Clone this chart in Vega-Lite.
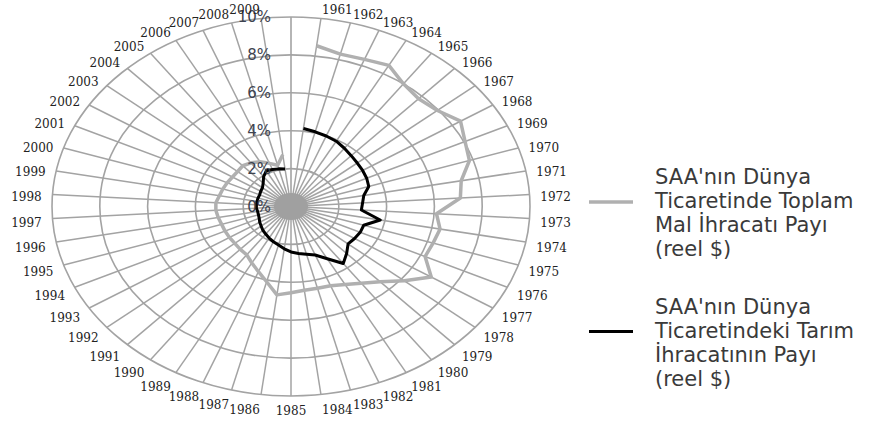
{
  "$schema": "https://vega.github.io/schema/vega-lite/v6.json",
  "autosize": "none",
  "width": 478,
  "height": 379,
  "padding": {"left": 52, "top": 17, "right": 352, "bottom": 29},
  "background": "white",
  "config": {"view": {"stroke": null}},
  "datasets": {
    "main": [
      {"year": 1961, "total": 8.55, "agri": 4.15},
      {"year": 1962, "total": 8.3, "agri": 4.07},
      {"year": 1963, "total": 8.35, "agri": 4.0},
      {"year": 1964, "total": 8.5, "agri": 3.93},
      {"year": 1965, "total": 8.0, "agri": 3.8},
      {"year": 1966, "total": 7.8, "agri": 3.68},
      {"year": 1967, "total": 7.95, "agri": 3.6},
      {"year": 1968, "total": 8.4, "agri": 3.55},
      {"year": 1969, "total": 8.05, "agri": 3.5},
      {"year": 1970, "total": 7.85, "agri": 3.42},
      {"year": 1971, "total": 7.25, "agri": 3.1},
      {"year": 1972, "total": 7.1, "agri": 3.0},
      {"year": 1973, "total": 6.1, "agri": 2.95},
      {"year": 1974, "total": 6.35, "agri": 3.8},
      {"year": 1975, "total": 6.25, "agri": 3.2},
      {"year": 1976, "total": 6.2, "agri": 3.2},
      {"year": 1977, "total": 6.95, "agri": 3.15},
      {"year": 1978, "total": 6.15, "agri": 3.1},
      {"year": 1979, "total": 5.45, "agri": 3.4},
      {"year": 1980, "total": 5.0, "agri": 3.72},
      {"year": 1981, "total": 4.7, "agri": 3.15},
      {"year": 1982, "total": 4.5, "agri": 2.75},
      {"year": 1983, "total": 4.45, "agri": 2.6},
      {"year": 1984, "total": 4.45, "agri": 2.5},
      {"year": 1985, "total": 4.55, "agri": 2.4},
      {"year": 1986, "total": 4.7, "agri": 2.25},
      {"year": 1987, "total": 4.1, "agri": 2.1},
      {"year": 1988, "total": 3.7, "agri": 2.0},
      {"year": 1989, "total": 3.4, "agri": 1.9},
      {"year": 1990, "total": 3.15, "agri": 1.8},
      {"year": 1991, "total": 3.1, "agri": 1.72},
      {"year": 1992, "total": 3.05, "agri": 1.62},
      {"year": 1993, "total": 3.05, "agri": 1.55},
      {"year": 1994, "total": 3.05, "agri": 1.47},
      {"year": 1995, "total": 3.05, "agri": 1.43},
      {"year": 1996, "total": 3.1, "agri": 1.42},
      {"year": 1997, "total": 3.15, "agri": 1.45},
      {"year": 1998, "total": 3.15, "agri": 1.45},
      {"year": 1999, "total": 3.05, "agri": 1.45},
      {"year": 2000, "total": 3.0, "agri": 1.45},
      {"year": 2001, "total": 2.95, "agri": 1.45},
      {"year": 2002, "total": 2.9, "agri": 1.5},
      {"year": 2003, "total": 2.9, "agri": 1.55},
      {"year": 2004, "total": 2.95, "agri": 1.7},
      {"year": 2005, "total": 2.85, "agri": 1.95},
      {"year": 2006, "total": 2.7, "agri": 2.15},
      {"year": 2007, "total": 2.45, "agri": 2.1},
      {"year": 2008, "total": 2.25, "agri": 2.05},
      {"year": 2009, "total": 2.75, "agri": 2.0}
    ],
    "rings": [
      {"r": 0}, {"r": 2}, {"r": 4}, {"r": 6}, {"r": 8}, {"r": 10}
    ]
  },
  "layer": [
    {
      "data": {"name": "rings"},
      "transform": [{"filter": "datum.r > 0"}],
      "mark": {"type": "point", "shape": "M-1,0A1,0.7929,0,1,1,1,0A1,0.7929,0,1,1,-1,0Z", "filled": false, "stroke": "#a3a3a3", "strokeWidth": 1.6, "opacity": 1},
      "encoding": {
        "x": {"datum": 0, "type": "quantitative", "scale": {"domain": [-10, 10], "nice": false, "zero": false}, "axis": null},
        "y": {"datum": 0, "type": "quantitative", "scale": {"domain": [-10, 10], "nice": false, "zero": false}, "axis": null},
        "size": {"field": "r", "type": "quantitative", "scale": {"type": "pow", "exponent": 2, "domain": [0, 10], "range": [0, 228484]}, "legend": null}
      }
    },
    {
      "data": {"name": "main"},
      "transform": [
        {"calculate": "(datum.year - 1960) * 2 * PI / 50", "as": "theta"},
        {"calculate": "10 * sin(datum.theta)", "as": "sx"},
        {"calculate": "10 * cos(datum.theta)", "as": "sy"},
        {"calculate": "0", "as": "zero"}
      ],
      "mark": {"type": "rule", "stroke": "#a3a3a3", "strokeWidth": 1.5},
      "encoding": {
        "x": {"field": "sx", "type": "quantitative"},
        "y": {"field": "sy", "type": "quantitative"},
        "x2": {"field": "zero"},
        "y2": {"field": "zero"}
      }
    },
    {
      "data": {"name": "rings"},
      "transform": [{"filter": "datum.r == 10"}, {"calculate": "0", "as": "zero"}],
      "mark": {"type": "rule", "stroke": "#a3a3a3", "strokeWidth": 1.6},
      "encoding": {
        "x": {"field": "zero", "type": "quantitative"},
        "y": {"field": "r", "type": "quantitative"},
        "y2": {"field": "zero"}
      }
    },
    {
      "data": {"name": "rings"},
      "transform": [{"filter": "datum.r == 0"}],
      "mark": {"type": "point", "shape": "M-1,0A1,0.7929,0,1,1,1,0A1,0.7929,0,1,1,-1,0Z", "filled": true, "fill": "#a0a0a0", "strokeWidth": 0, "opacity": 1, "size": 1156},
      "encoding": {
        "x": {"field": "r", "type": "quantitative"},
        "y": {"field": "r", "type": "quantitative"}
      }
    },
    {
      "data": {"name": "main"},
      "transform": [
        {"fold": ["total", "agri"], "as": ["series", "value"]},
        {"calculate": "(datum.year - 1960) * 2 * PI / 50", "as": "theta"},
        {"calculate": "datum.value * sin(datum.theta)", "as": "px"},
        {"calculate": "datum.value * cos(datum.theta)", "as": "py"}
      ],
      "mark": {"type": "line", "strokeJoin": "round"},
      "encoding": {
        "x": {"field": "px", "type": "quantitative"},
        "y": {"field": "py", "type": "quantitative"},
        "order": {"field": "year", "type": "quantitative"},
        "strokeWidth": {"field": "series", "type": "nominal", "scale": {"domain": ["total", "agri"], "range": [3.5, 3]}, "legend": null},
        "color": {
          "field": "series",
          "type": "nominal",
          "scale": {"domain": ["total", "agri"], "range": ["#b0b0b0", "#000000"]},
          "legend": {
            "title": null,
            "orient": "none",
            "legendX": 535,
            "legendY": 161,
            "padding": 0,
            "symbolType": "stroke",
            "symbolSize": 1936,
            "symbolStrokeWidth": 4,
            "labelOffset": 20,
            "labelFont": "DejaVu Sans",
            "labelFontSize": 21,
            "labelColor": "#3a3a3a",
            "labelLimit": 400,
            "rowPadding": 36,
            "encode": {"labels": {"update": {"lineHeight": {"value": 24}, "dy": {"value": -24}}}},
            "labelExpr": "datum.value == 'total' ? [\"SAA'nın Dünya\", \"Ticaretinde Toplam\", \"Mal İhracatı Payı\", \"(reel $)\"] : [\"SAA'nın Dünya\", \"Ticaretindeki Tarım\", \"İhracatının Payı\", \"(reel $)\"]"
          }
        }
      }
    },
    {
      "data": {"name": "rings"},
      "transform": [{"calculate": "datum.r + '%'", "as": "label"}, {"calculate": "0", "as": "zero"}],
      "mark": {"type": "text", "align": "right", "baseline": "middle", "dx": -20, "font": "DejaVu Sans", "fontSize": 15, "fill": "#3d4350"},
      "encoding": {
        "x": {"field": "zero", "type": "quantitative"},
        "y": {"field": "r", "type": "quantitative"},
        "text": {"field": "label", "type": "nominal"}
      }
    },
    {
      "data": {"name": "main"},
      "transform": [
        {"calculate": "(datum.year - 1960) * 2 * PI / 50", "as": "theta"},
        {"calculate": "sin(datum.theta)", "as": "s"},
        {"calculate": "datum.s * 10.46 + (datum.s > 0.01 ? 0.63 : (datum.s < -0.01 ? -0.63 : 0))", "as": "lx"},
        {"calculate": "cos(datum.theta) * 10.63", "as": "ly"}
      ],
      "mark": {"type": "text", "align": "center", "baseline": "middle", "dy": 3.5, "font": "DejaVu Serif", "fontSize": 12, "fill": "#222222"},
      "encoding": {
        "x": {"field": "lx", "type": "quantitative"},
        "y": {"field": "ly", "type": "quantitative"},
        "text": {"field": "year", "type": "nominal"}
      }
    }
  ]
}
